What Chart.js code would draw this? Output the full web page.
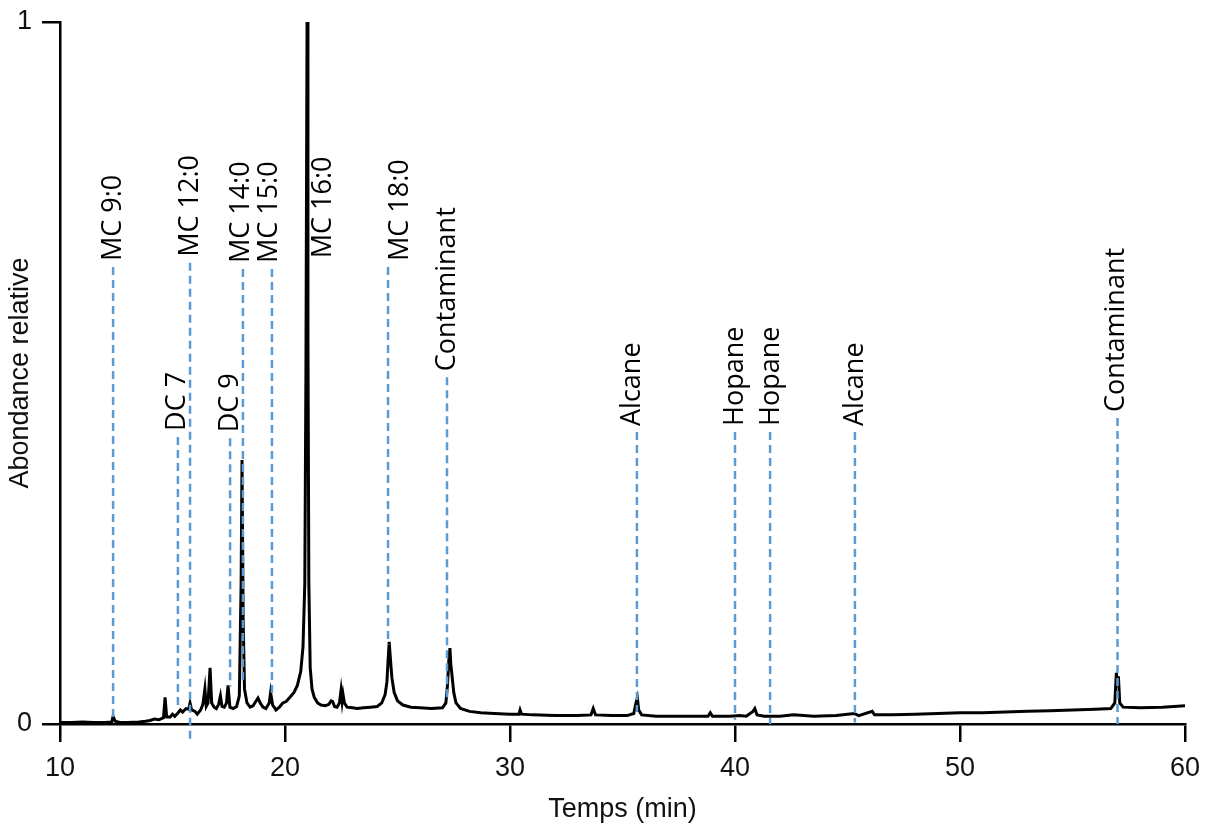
<!DOCTYPE html>
<html>
<head>
<meta charset="utf-8">
<script src="https://cdn.jsdelivr.net/npm/chart.js@4.4.0/dist/chart.umd.min.js"></script>
<style>
  html, body { margin: 0; padding: 0; background: #fff; }
  #wrap { width: 1205px; height: 830px; }
</style>
</head>
<body>
<div id="wrap"><canvas id="mycanvas" width="1205" height="830"></canvas></div>
<script>
// chromatogram trace (time in min, relative abundance)
var times = [10.0, 10.5, 11.0, 11.5, 12.0, 12.3, 12.36, 12.45, 12.7, 13.0, 13.5, 13.8, 14.0, 14.2, 14.4, 14.6, 14.67, 14.74, 14.9, 15.0,
  15.1, 15.25, 15.35, 15.45, 15.6, 15.72, 15.78, 15.85, 16.0, 16.1, 16.25, 16.35, 16.44, 16.5, 16.58, 16.67, 16.74, 16.85, 16.95, 17.05,
  17.13, 17.2, 17.3, 17.4, 17.47, 17.55, 17.7, 17.85, 17.97, 18.05, 18.09, 18.14, 18.2, 18.31, 18.45, 18.58, 18.7, 18.8, 18.9, 19.02,
  19.15, 19.3, 19.36, 19.45, 19.6, 19.75, 19.9, 20.05, 20.22, 20.4, 20.55, 20.7, 20.8, 20.88, 20.93, 20.98, 21.02, 21.06, 21.12, 21.2,
  21.3, 21.45, 21.6, 21.8, 21.95, 22.05, 22.12, 22.2, 22.31, 22.42, 22.49, 22.54, 22.58, 22.64, 22.76, 23.0, 23.2, 23.5, 23.8, 24.1,
  24.3, 24.45, 24.53, 24.58, 24.63, 24.68, 24.75, 24.85, 25.0, 25.24, 25.6, 26.0, 26.5, 27.0, 27.15, 27.22, 27.28, 27.33, 27.37, 27.42,
  27.5, 27.6, 27.8, 28.2, 28.7, 29.3, 30.0, 30.4, 30.45, 30.52, 31.0, 32.0, 33.0, 33.6, 33.7, 33.8, 34.5, 35.2, 35.5, 35.6,
  35.66, 35.72, 35.85, 36.5, 37.5, 38.8, 38.9, 39.0, 39.8, 40.2, 40.5, 40.8, 40.88, 40.98, 41.3, 42.0, 42.6, 43.5, 44.5, 45.3,
  45.5, 46.1, 46.2, 47.0, 48.0, 49.0, 50.0, 51.0, 52.0, 53.0, 54.0, 55.0, 56.0, 56.7, 56.88, 56.95, 57.0, 57.04, 57.1, 57.25,
  58.0, 59.0, 59.5, 60.0];
var abundance = [0.002, 0.002, 0.003, 0.002, 0.002, 0.003, 0.011, 0.004, 0.002, 0.002, 0.003, 0.004, 0.005, 0.007, 0.006, 0.009, 0.038, 0.010, 0.010, 0.014,
  0.011, 0.016, 0.020, 0.017, 0.022, 0.021, 0.030, 0.020, 0.018, 0.014, 0.020, 0.028, 0.050, 0.025, 0.030, 0.080, 0.030, 0.024, 0.022, 0.028,
  0.040, 0.025, 0.024, 0.030, 0.055, 0.024, 0.022, 0.025, 0.040, 0.200, 0.376, 0.150, 0.050, 0.030, 0.024, 0.026, 0.032, 0.037, 0.030, 0.024,
  0.022, 0.030, 0.045, 0.027, 0.020, 0.024, 0.030, 0.032, 0.038, 0.045, 0.055, 0.075, 0.110, 0.200, 0.500, 1.000, 0.550, 0.200, 0.080, 0.050,
  0.038, 0.030, 0.027, 0.026, 0.028, 0.033, 0.032, 0.025, 0.024, 0.030, 0.048, 0.032, 0.042, 0.030, 0.024, 0.023, 0.022, 0.023, 0.024, 0.025,
  0.030, 0.042, 0.060, 0.090, 0.117, 0.095, 0.066, 0.045, 0.033, 0.027, 0.024, 0.023, 0.022, 0.023, 0.030, 0.055, 0.090, 0.108, 0.085, 0.070,
  0.045, 0.030, 0.022, 0.018, 0.016, 0.015, 0.014, 0.014, 0.020, 0.014, 0.013, 0.012, 0.012, 0.013, 0.022, 0.013, 0.012, 0.012, 0.015, 0.030,
  0.037, 0.020, 0.013, 0.011, 0.011, 0.011, 0.016, 0.011, 0.011, 0.012, 0.011, 0.018, 0.022, 0.013, 0.011, 0.011, 0.013, 0.011, 0.012, 0.015,
  0.012, 0.018, 0.013, 0.013, 0.014, 0.015, 0.016, 0.016, 0.017, 0.018, 0.019, 0.020, 0.021, 0.022, 0.030, 0.073, 0.055, 0.068, 0.030, 0.024,
  0.023, 0.024, 0.025, 0.026];

// annotated compounds
var markerNames = ['MC 9:0', 'DC 7', 'MC 12:0', 'DC 9', 'MC 14:0', 'MC 15:0', 'MC 16:0', 'MC 18:0', 'Contaminant', 'Alcane', 'Hopane', 'Hopane', 'Alcane', 'Contaminant'];
var lineTimes = [12.36, 15.24, 15.78, 17.56, 18.13, 19.42, 20.98, 24.58, 27.2, 35.64, 40.0, 41.56, 45.33, 57.0];
var labelTimes = [12.36, 15.2, 15.78, 17.56, 18.05, 19.29, 21.7, 25.11, 27.2, 35.42, 40.0, 41.6, 45.33, 56.95];
var lineTops = [0.651, 0.409, 0.657, 0.407, 0.648, 0.648, 0.655, 0.651, 0.494, 0.416, 0.416, 0.416, 0.416, 0.436];
var lineBottoms = [0.01, 0.024, -0.026, 0.053, 0.063, 0.04, null, 0.113, 0.034, 0.017, 0.006, 0.0, 0.002, 0.0];

var xTicks = [10, 20, 30, 40, 50, 60];
var yTicks = [0, 1];

var trace = [];
for (var i in times) {
  trace.push({x: times[i], y: abundance[i]});
}

var datasets = [];
for (var j in markerNames) {
  datasets.push({
    label: markerNames[j],
    data: [{x: lineTimes[j], y: lineTops[j]}, {x: lineTimes[j], y: lineBottoms[j]}],
    borderColor: '#5B9BD5',
    borderWidth: 2.5,
    borderDash: [8, 5],
    pointRadius: 0,
    clip: false,
    order: 0
  });
}
datasets.push({
  label: 'trace',
  data: trace,
  borderColor: '#000',
  borderWidth: 3,
  pointRadius: 0,
  tension: 0,
  order: 1
});

var tickFont = {family: "'Liberation Sans', Arial, sans-serif", size: 27};

// rotated compound labels above each dashed line
var markerLabels = {
  id: 'markerLabels',
  afterDatasetsDraw: function(chart) {
    var ctx = chart.ctx;
    var xs = chart.scales.x, ys = chart.scales.y;
    ctx.save();
    ctx.font = "27px 'Open Sans', sans-serif";
    ctx.fillStyle = '#000';
    ctx.textAlign = 'left';
    ctx.textBaseline = 'middle';
    for (var k in markerNames) {
      var px = xs.getPixelForValue(labelTimes[k]);
      var py = ys.getPixelForValue(lineTops[k]) - 6;
      ctx.save();
      ctx.translate(px, py);
      ctx.rotate(-Math.PI / 2);
      ctx.fillText(markerNames[k], 0, 0);
      ctx.restore();
    }
    ctx.restore();
  }
};

var ctx = document.getElementById('mycanvas');
var chart = new Chart(ctx, {
  type: 'line',
  data: {datasets: datasets},
  plugins: [markerLabels],
  options: {
    responsive: false,
    animation: false,
    layout: {padding: {top: 22, right: 20, left: 0, bottom: 0}},
    plugins: {legend: {display: false}, tooltip: {enabled: false}},
    scales: {
      x: {
        type: 'linear',
        min: 10,
        max: 60,
        afterBuildTicks: function(scale) { scale.ticks = xTicks.map(function(v) { return {value: v}; }); },
        afterFit: function(scale) {
          scale.height = 106;
          scale.paddingLeft = 0;
          scale.paddingRight = 0;
        },
        grid: {drawOnChartArea: false, drawTicks: true, tickLength: 18, color: '#000', lineWidth: 2.5},
        border: {display: true, color: '#000', width: 2.5},
        ticks: {font: tickFont, color: '#111', padding: 10, maxRotation: 0},
        title: {display: true, text: 'Temps (min)', font: tickFont, color: '#111'}
      },
      y: {
        type: 'linear',
        min: 0,
        max: 1,
        afterBuildTicks: function(scale) { scale.ticks = yTicks.map(function(v) { return {value: v}; }); },
        afterFit: function(scale) {
          scale.width = 60;
          scale.paddingTop = 0;
          scale.paddingBottom = 0;
        },
        grid: {drawOnChartArea: false, drawTicks: true, tickLength: 18, color: '#000', lineWidth: 2.5},
        border: {display: true, color: '#000', width: 2.5},
        ticks: {font: tickFont, color: '#111', padding: 10},
        title: {display: true, text: 'Abondance relative', font: tickFont, color: '#111'}
      }
    }
  }
});
</script>
</body>
</html>
